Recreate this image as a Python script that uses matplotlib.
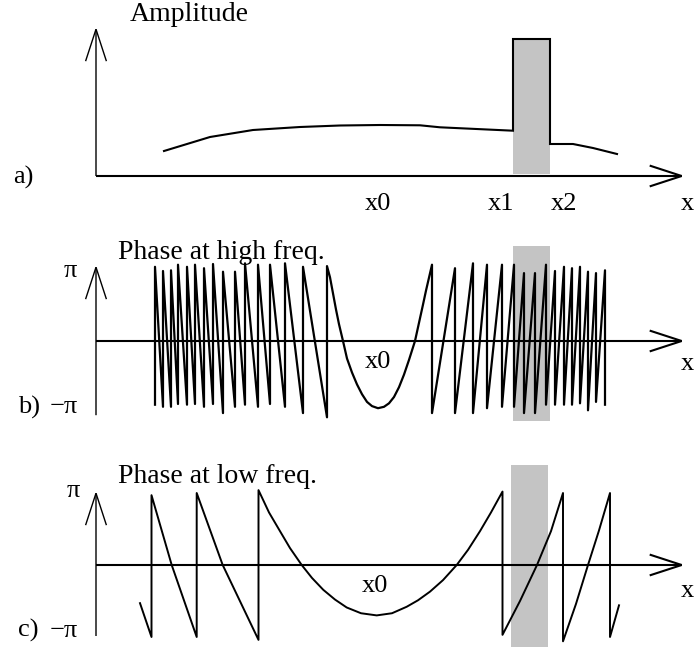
import matplotlib
matplotlib.use("Agg")
import matplotlib.pyplot as plt
from matplotlib.patches import FancyArrowPatch, Rectangle

plt.rcParams['font.family'] = ['Liberation Serif', 'DejaVu Serif']

W, H = 696, 647
fig = plt.figure(figsize=(W / 100, H / 100), dpi=100)

# Positions along x, measured from the vertical axis
x0_pos = 282
x1_pos = 417
x2_pos = 454
x_axis_end = 589

# a) amplitude profile, including the strong reflector between x1 and x2
amp_pos = [68, 114, 157, 204, 244, 284, 324, 344, 417, 417, 454, 454, 477, 497, 521]
amp_val = [0.25, 0.39, 0.46, 0.49, 0.505, 0.51, 0.507, 0.487, 0.453, 1.37, 1.37, 0.32, 0.32,
           0.28, 0.22]

# b) wrapped phase at high frequency (phase in units of pi)
b_left_jump_pos = [59, 67, 75, 82, 91, 99, 108, 117, 127, 139, 149, 162, 174, 189, 207, 231]
b_left_bottom = [-0.91, -0.94, -0.94, -0.90, -0.91, -0.90, -0.94, -0.90, -1.03, -0.94,
                 -0.91, -0.94, -0.90, -0.94, -1.03, -1.09]
b_left_top = [1.06, 1.00, 1.01, 1.09, 1.06, 1.09, 1.04, 1.10, 0.99, 0.99,
              1.11, 1.09, 1.09, 1.11, 1.06, 1.07]
b_center_pos = [234, 237, 240, 243, 247, 251, 256, 261, 266, 271, 276, 282,
                288, 293, 298, 303, 308, 313, 319, 323, 327, 330]
b_center_phase = [0.91, 0.68, 0.45, 0.24, 0.0, -0.25, -0.45, -0.62, -0.76, -0.87, -0.93, -0.96,
                  -0.94, -0.89, -0.80, -0.66, -0.48, -0.27, 0.0, 0.26, 0.52, 0.72]
b_right_jump_pos = [336, 359, 377, 391, 406, 418, 428, 439, 450, 459, 468, 476, 484, 492, 500, 509]
b_right_top = [1.09, 1.04, 1.11, 1.09, 1.09, 1.09, 0.97, 0.97, 1.09, 1.00,
               1.06, 1.04, 1.06, 0.99, 0.97, 1.01]
b_right_bottom = [-1.03, -1.03, -1.03, -0.96, -0.94, -0.94, -1.03, -1.03, -0.91, -0.91,
                  -0.91, -0.91, -0.89, -0.99, -0.87, -0.91]

# c) wrapped phase at low frequency (phase in units of pi)
c_pos = [44, 55.5, 55.5, 75.7, 100.7, 100.7, 126.7, 162.5, 162.5, 173, 184, 194, 205.7, 216,
         227.3, 239, 250.7, 265, 280.7, 296, 310.7, 322, 334, 347, 360.7, 372, 384, 395,
         406.5, 406.5, 424, 441, 455, 467, 467, 480, 492, 503, 514, 514, 523]
c_phase = [-0.53, -1.0, 0.97, 0.0, -1.0, 1.0, 0.0, -1.04, 1.04, 0.73, 0.47, 0.235, 0.0, -0.18,
           -0.345, -0.48, -0.59, -0.67, -0.70, -0.67, -0.58, -0.49, -0.37, -0.21, 0.0, 0.21,
           0.47, 0.73, 1.02, -0.97, -0.50, 0.0, 0.47, 1.0, -1.06, -0.54, 0.0, 0.48, 1.0,
           -1.0, -0.56]

TITLE_FS = 20
LABEL_FS = 19
SHADE = '#c4c4c4'
LW = 1.5


def make_panel(top_px, bottom_px, y_top, y_bottom):
    ax = fig.add_axes([0, 1 - bottom_px / H, 1, (bottom_px - top_px) / H])
    ax.set_xlim(-96, W - 96)
    ax.set_ylim(y_bottom, y_top)
    ax.axis('off')
    return ax


def arrow(ax, start, end, lw):
    ax.add_patch(FancyArrowPatch(start, end,
                                 arrowstyle='->,head_length=23,head_width=7.5',
                                 mutation_scale=1, lw=lw, color='k',
                                 shrinkA=0, shrinkB=0, joinstyle='miter',
                                 capstyle='butt'))


def frame(ax, y_low, y_high):
    arrow(ax, (0, y_low), (0, y_high), 1.0)
    arrow(ax, (0, 0), (x_axis_end, 0), 1.5)


def text(ax, x, y, s, size=LABEL_FS, ha='left'):
    ax.text(x, y, s, fontsize=size, ha=ha, va='baseline', clip_on=False)


# ---- a) amplitude ----
ax_a = make_panel(0, 230, 1.76, -0.54)
ax_a.add_patch(Rectangle((x1_pos, 0.02), x2_pos - x1_pos, 1.35,
                         facecolor=SHADE, edgecolor='none'))
ax_a.plot(amp_pos, amp_val, color='k', lw=LW, solid_joinstyle='miter')
frame(ax_a, 0, 1.49)
text(ax_a, 34, 1.55, 'Amplitude', TITLE_FS)
text(ax_a, -83, -0.08, 'a)')
text(ax_a, x0_pos, -0.34, 'x0', ha='center')
text(ax_a, 405, -0.34, 'x1', ha='center')
text(ax_a, 468, -0.34, 'x2', ha='center')
text(ax_a, 585, -0.34, 'x')

# ---- b) phase at high frequency ----
ax_b = make_panel(230, 440, (341 - 230) / 70, (341 - 440) / 70)
ax_b.add_patch(Rectangle((x1_pos, -1.143), x2_pos - x1_pos, 2.5,
                         facecolor=SHADE, edgecolor='none'))
b_x, b_y = [], []
for xj, bot, top in zip(b_left_jump_pos, b_left_bottom, b_left_top):
    b_x += [xj, xj]
    b_y += [bot, top]
b_x += b_center_pos
b_y += b_center_phase
for xj, top, bot in zip(b_right_jump_pos, b_right_top, b_right_bottom):
    b_x += [xj, xj]
    b_y += [top, bot]
ax_b.plot(b_x, b_y, color='k', lw=1.6)
frame(ax_b, -1.06, 1.086)
text(ax_b, 22, 1.171, 'Phase at high freq.', TITLE_FS)
text(ax_b, -78, -1.03, 'b)')
text(ax_b, -46, -1.03, '\u2212\u03c0')
text(ax_b, -32, 0.914, '\u03c0')
text(ax_b, x0_pos, -0.386, 'x0', ha='center')
text(ax_b, 585, -0.414, 'x')

# ---- c) phase at low frequency ----
ax_c = make_panel(440, 647, (565 - 440) / 72, (565 - 647) / 72)
ax_c.add_patch(Rectangle((x1_pos - 2, -1.15), x2_pos - x1_pos, 2.54,
                         facecolor=SHADE, edgecolor='none'))
ax_c.plot(c_pos, c_phase, color='k', lw=1.4)
frame(ax_c, -0.986, 1.028)
text(ax_c, 22, 1.139, 'Phase at low freq.', TITLE_FS)
text(ax_c, -78, -1.0, 'c)')
text(ax_c, -46, -1.0, '\u2212\u03c0')
text(ax_c, -29, 0.944, '\u03c0')
text(ax_c, x0_pos - 3, -0.375, 'x0', ha='center')
text(ax_c, 585, -0.444, 'x')

fig.savefig('out.png', dpi=100)
